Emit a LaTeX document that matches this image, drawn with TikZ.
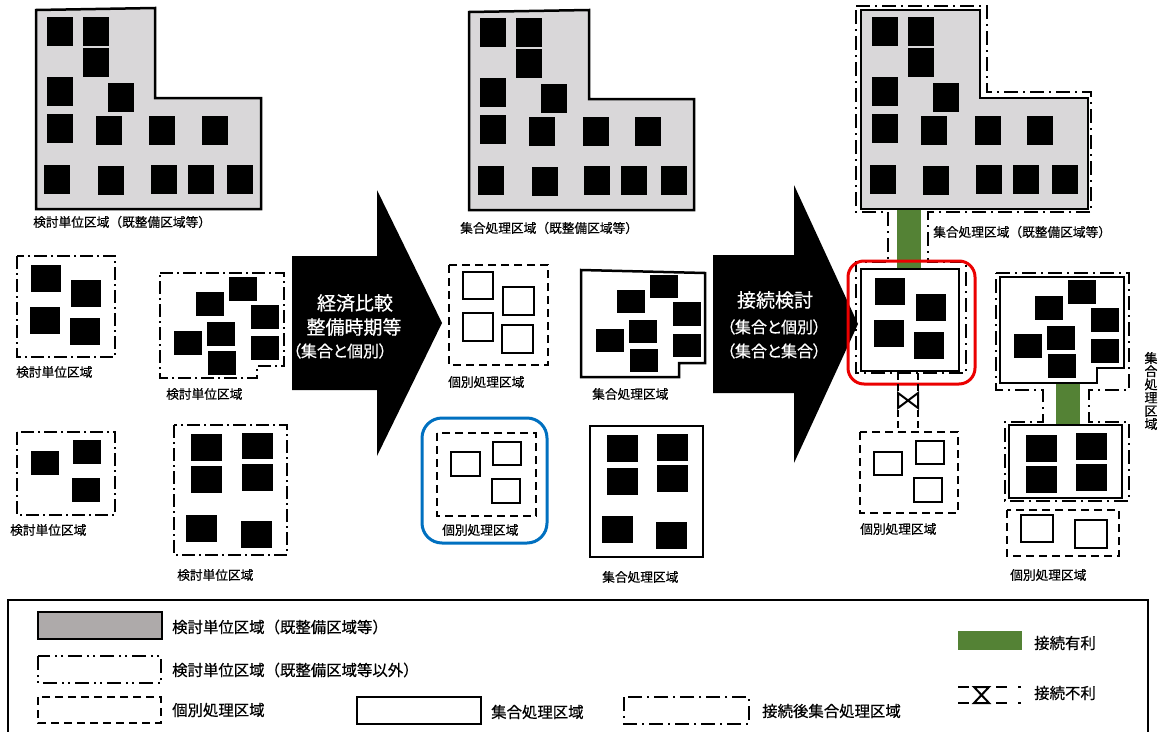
\documentclass[tikz,border=0pt]{standalone}
\usepackage{fontspec}
\newfontfamily\jp[FakeBold=0.5]{Noto Sans CJK JP}
\newfontfamily\jpp[RawFeature=+palt,FakeBold=0.5]{Noto Sans CJK JP}
\definecolor{regiongray}{RGB}{217,215,217}
\definecolor{leggray}{RGB}{174,170,170}
\definecolor{conngreen}{RGB}{84,130,53}
\definecolor{hlred}{RGB}{235,0,0}
\definecolor{hlblue}{RGB}{0,112,192}
\newcommand{\bsq}[4]{\fill[black] (#1,#2) rectangle (#3,#4);}
\newcommand{\wsq}[4]{\draw[wbox] (#1,#2) rectangle (#3,#4);}
\tikzset{
  lbl/.style={font=\jp\fontsize{12.7}{15}\selectfont, inner sep=0pt, anchor=west},
  leg/.style={font=\jp\fontsize{15.4}{17}\selectfont, inner sep=0pt, anchor=west},
  arrbig/.style={font=\jp\fontsize{19}{21}\selectfont, text=white, inner sep=0pt},
  arrsmall/.style={font=\jpp\fontsize{16}{18}\selectfont, text=white, inner sep=0pt},
  wbox/.style={draw=black, line width=2pt, fill=white},
  grayreg/.style={draw=black, line width=2.5pt, fill=regiongray, line join=miter},
  solidreg/.style={draw=black, line width=2.5pt, fill=white},
  unitdd/.style={draw=black, line width=2.2pt, dash pattern=on 13pt off 4pt on 2pt off 4pt},
  conndd/.style={draw=black, line width=2.2pt, dash pattern=on 14pt off 5pt on 2pt off 5pt},
  indiv/.style={draw=black, line width=2.2pt, dash pattern=on 8pt off 5pt},
  bigarrow/.style={fill=black}
}
\begin{document}
\begin{tikzpicture}[x=1pt,y=-1pt]
\useasboundingbox (0,0) rectangle (1159,731);
\fill[white] (0,0) rectangle (1159,731);

% ================= Column 1 =================
\draw[grayreg] (36,10) -- (155,8) -- (155,98) -- (261,98) -- (261,209) -- (36,209) -- cycle;
\bsq{47}{17}{73}{46}\bsq{83}{17}{109}{46}\bsq{83}{48}{109}{77}
\bsq{47}{77}{73}{106}\bsq{108}{83}{134}{112}
\bsq{47}{114}{73}{143}\bsq{96}{116}{122}{145}\bsq{149}{116}{175}{145}\bsq{202}{116}{228}{145}
\bsq{44}{165}{70}{194}\bsq{98}{166}{124}{195}\bsq{151}{165}{177}{194}\bsq{188}{165}{214}{194}\bsq{227}{165}{253}{194}
\node[lbl] (l1) at (33,222) {検討単位区域（既整備区域等）};

% panel A
\draw[unitdd] (17,256) rectangle (115,357);
\bsq{31}{265}{61}{292}\bsq{71}{280}{101}{307}\bsq{30}{307}{60}{334}\bsq{70}{318}{100}{345}
\node[lbl] (lA) at (16,372) {検討単位区域};
% panel B
\draw[unitdd] (160,273) -- (284,273) -- (284,366) -- (257,366) -- (257,378) -- (160,378) -- cycle;
\bsq{196}{292}{224}{316}\bsq{229}{277}{257}{301}\bsq{251}{305}{279}{329}
\bsq{174}{331}{202}{355}\bsq{207}{322}{235}{346}\bsq{251}{336}{279}{360}\bsq{208}{351}{236}{375}
\node[lbl] (lB) at (166,394) {検討単位区域};
% panel C
\draw[unitdd] (17,432) rectangle (115,515);
\bsq{31}{451}{59}{475}\bsq{73}{440}{101}{464}\bsq{72}{478}{100}{502}
\node[lbl] (lC) at (10,530) {検討単位区域};
% panel D
\draw[unitdd] (174,425) rectangle (287,555);
\bsq{191}{434}{222}{461}\bsq{242}{433}{273}{459}\bsq{191}{466}{222}{493}\bsq{242}{464}{273}{491}
\bsq{186}{515}{217}{542}\bsq{241}{521}{272}{548}
\node[lbl] (lD) at (177,575) {検討単位区域};

% ================= Arrow 1 =================
\fill[bigarrow] (292,256) -- (377,256) -- (377,190) -- (442,323) -- (377,456) -- (377,390) -- (292,390) -- cycle;
\node[arrbig] (a1a) at (355,303) {経済比較};
\node[arrbig] (a1b) at (354,327) {整備時期等};
\node[arrsmall] (a1c) at (340,351) {（集合と個別）};

% ================= Column 2 =================
\draw[grayreg] (469,12) -- (589,10) -- (589,99) -- (694,99) -- (694,210) -- (469,210) -- cycle;
\bsq{480}{18}{506}{47}\bsq{516}{18}{542}{47}\bsq{516}{49}{542}{78}
\bsq{480}{78}{506}{107}\bsq{541}{84}{567}{113}
\bsq{480}{115}{506}{144}\bsq{529}{117}{555}{146}\bsq{583}{117}{609}{146}\bsq{635}{117}{661}{146}
\bsq{478}{166}{504}{195}\bsq{532}{167}{558}{196}\bsq{584}{166}{610}{195}\bsq{621}{166}{647}{195}\bsq{661}{166}{687}{195}
\node[lbl] (l2) at (460,228) {集合処理区域（既整備区域等）};

% individual box
\draw[indiv] (449,265) rectangle (548,365);
\wsq{463}{272}{493}{299}\wsq{503}{287}{534}{315}\wsq{463}{313}{493}{341}\wsq{502}{325}{533}{353}
\node[lbl] (l2a) at (448,382) {個別処理区域};
% collective polygon
\draw[solidreg] (581,270) -- (705,273) -- (705,363) -- (679,363) -- (679,377) -- (581,377) -- cycle;
\bsq{617}{290}{645}{313}\bsq{650}{275}{678}{298}\bsq{673}{302}{701}{326}
\bsq{596}{329}{624}{352}\bsq{629}{320}{657}{343}\bsq{673}{334}{701}{357}\bsq{630}{349}{658}{372}
\node[lbl] (l2b) at (592,394) {集合処理区域};
% blue highlighted individual box
\draw[hlblue, line width=3pt, rounded corners=20pt] (422,418) rectangle (547,543);
\draw[indiv] (437,433) rectangle (536,516);
\wsq{451}{452}{480}{476}\wsq{493}{442}{521}{465}\wsq{492}{479}{520}{503}
\node[lbl] (l2c) at (442,530) {個別処理区域};
% collective box
\draw[solidreg] (590,426) rectangle (703,557);
\bsq{607}{435}{638}{462}\bsq{657}{434}{688}{461}\bsq{607}{468}{638}{495}\bsq{657}{465}{688}{492}
\bsq{602}{516}{633}{543}\bsq{656}{522}{687}{549}
\node[lbl] (l2d) at (602,577) {集合処理区域};

% ================= Arrow 2 =================
\fill[bigarrow] (713,255) -- (794,255) -- (794,185) -- (858,324) -- (794,463) -- (794,393) -- (713,393) -- cycle;
\node[arrbig] (a2a) at (775,300) {接続検討};
\node[arrsmall] (a2b) at (774,327) {（集合と個別）};
\node[arrsmall] (a2c) at (774,351) {（集合と集合）};

% ================= Column 3 =================
\fill[conngreen] (897,205) rectangle (921,271);
\draw[conndd] (856,6) -- (987,6) -- (987,92) -- (1091,92) -- (1091,212) -- (928,212) -- (928,262) -- (966,262) -- (966,373) -- (856,373) -- (856,262) -- (888,262) -- (888,212) -- (856,212) -- cycle;
\draw[grayreg] (861,10) -- (980,10) -- (980,98) -- (1088,98) -- (1088,209) -- (861,209) -- cycle;
\bsq{872}{17}{898}{46}\bsq{908}{17}{934}{46}\bsq{908}{48}{934}{77}
\bsq{872}{77}{898}{106}\bsq{933}{83}{959}{112}
\bsq{872}{114}{898}{143}\bsq{921}{116}{947}{145}\bsq{975}{116}{1001}{145}\bsq{1027}{116}{1053}{145}
\bsq{870}{165}{896}{194}\bsq{923}{166}{949}{195}\bsq{976}{165}{1002}{194}\bsq{1013}{165}{1039}{194}\bsq{1052}{165}{1078}{194}
\node[lbl] (l3) at (933,232) {集合処理区域（既整備区域等）};

\draw[solidreg] (861,269) rectangle (959,371);
\bsq{875}{278}{905}{305}\bsq{916}{294}{946}{321}\bsq{874}{320}{904}{347}\bsq{914}{332}{944}{359}
\draw[hlred, line width=3pt, rounded corners=16pt] (848,261) rectangle (975,384);

% disadvantageous connection (valve)
\draw[black, line width=2pt, dash pattern=on 7pt off 4pt] (898,373) -- (898,393) (918,373) -- (918,393);
\draw[black, line width=2pt, dash pattern=on 7pt off 4pt] (898,410) -- (898,432) (918,410) -- (918,432);
\draw[black, line width=2pt, line join=miter] (898,393) -- (898,408) -- (918,393) -- (918,408) -- cycle;

\draw[indiv] (860,432) rectangle (958,513);
\wsq{874}{452}{902}{475}\wsq{916}{441}{944}{464}\wsq{914}{478}{942}{502}
\node[lbl] (l3a) at (860,529) {個別処理区域};

% right group
\fill[conngreen] (1056,380) rectangle (1080,428);
\draw[conndd] (996,273) -- (1129,273) -- (1129,390) -- (1089,390) -- (1089,422) -- (1129,422) -- (1129,501) -- (1005,501) -- (1005,422) -- (1043,422) -- (1043,390) -- (996,390) -- cycle;
\draw[solidreg] (1000,277) -- (1124,277) -- (1124,368) -- (1097,368) -- (1097,383) -- (1000,383) -- cycle;
\bsq{1068}{280}{1096}{304}\bsq{1035}{296}{1063}{320}\bsq{1091}{308}{1119}{332}
\bsq{1014}{334}{1042}{358}\bsq{1047}{326}{1075}{350}\bsq{1091}{339}{1119}{363}\bsq{1048}{354}{1076}{378}
\draw[solidreg] (1009,425) rectangle (1122,498);
\bsq{1026}{435}{1057}{462}\bsq{1076}{433}{1107}{460}\bsq{1026}{466}{1057}{493}\bsq{1076}{464}{1107}{491}
\draw[indiv] (1007,510) rectangle (1119,556);
\wsq{1021}{515}{1053}{542}\wsq{1075}{520}{1107}{548}
\node[lbl] (l3b) at (1010,575) {個別処理区域};
\node[font=\jp\fontsize{13}{13.2}\selectfont, inner sep=0pt, align=center] (l3c) at (1151,391) {集\\合\\処\\理\\区\\域};

% ================= Legend =================
\draw[black, line width=1.5pt] (8,740) -- (8,600) -- (1148,600) -- (1148,740);
\draw[black, line width=2.5pt, fill=leggray] (38,612) rectangle (162,639);
\node[leg] (t1) at (172,627) {検討単位区域（既整備区域等）};
\draw[black, line width=2pt, dash pattern=on 14pt off 5pt on 2pt off 4pt on 2pt off 5pt] (38,656) rectangle (161,683);
\node[leg] (t2) at (172,670) {検討単位区域（既整備区域等以外）};
\draw[indiv] (38,697) rectangle (161,723);
\node[leg] (t3) at (172,710) {個別処理区域};
\draw[black, line width=2pt] (357,697) rectangle (481,724);
\node[leg] (t4) at (491,712) {集合処理区域};
\draw[conndd] (624,697) rectangle (749,724);
\node[leg] (t5) at (762,711) {接続後集合処理区域};
\fill[conngreen] (958,631) rectangle (1022,650);
\node[leg] (t6) at (1034,643) {接続有利};
\draw[black, line width=2pt] (958,687) -- (969,687) (958,703) -- (969,703);
\draw[black, line width=2pt] (996,687) -- (1007,687) (996,703) -- (1007,703);
\draw[black, line width=2pt] (1018,687) -- (1021,687) (1018,703) -- (1021,703);
\draw[black, line width=2pt, line join=miter] (974,687) -- (989,687) -- (974,703) -- (989,703) -- cycle;
\node[leg] (t7) at (1034,693) {接続不利};
\end{tikzpicture}
\end{document}
